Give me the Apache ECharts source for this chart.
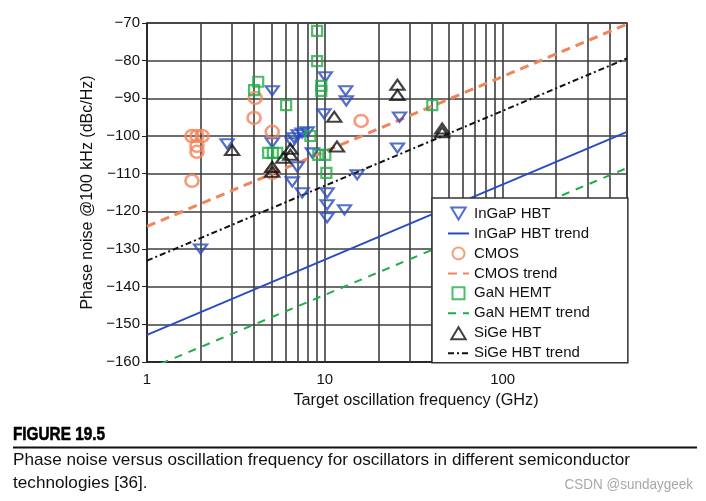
<!DOCTYPE html>
<html><head><meta charset="utf-8">
<script src="https://cdn.jsdelivr.net/npm/echarts@6/dist/echarts.min.js"></script>
<style>html,body{margin:0;padding:0;background:#fff}#c{width:706px;height:501px}</style>
</head><body><div id="c"></div>
<script>
// ---- data (frequency in GHz, phase noise in dBc/Hz) ----
const ingapHBT = [[2.0,-130],[2.82,-102.1],[5.06,-88.0],[5.06,-101.8],[6.56,-101.8],[6.7,-100.5],[7.08,-99.7],[7.46,-99.2],[7.96,-98.9],[8.5,-104.5],[6.99,-108.2],[6.56,-112.2],[7.46,-115.1],[10.3,-115.1],[10.3,-118.3],[10.3,-121.7],[12.9,-119.6],[15.2,-110.3],[10.06,-84.3],[9.9,-94.1],[13.1,-88.0],[13.2,-90.7],[26.3,-95.0],[25.6,-103.2]];
const ingapTrend = [[1,-152.8],[500,-98.9]];
const cmos = [[1.79,-100],[1.91,-100],[2.04,-100],[1.91,-102.6],[1.91,-104.2],[1.79,-111.9],[4.06,-89.9],[4.0,-95.2],[5.06,-98.9],[5.06,-109.8],[16.0,-96.0]];
const cmosTrend = [[1,-124.0],[500,-70.3]];
const ganHEMT = [[9.05,-72.1],[9.05,-80.1],[4.22,-85.6],[4.0,-87.8],[6.06,-91.8],[9.55,-86.7],[9.55,-88.0],[4.8,-104.5],[5.1,-104.5],[5.4,-104.5],[8.29,-100.0],[9.19,-105.0],[10.06,-105.0],[10.2,-109.8],[40.2,-91.8]];
const ganTrend = [[1,-162.0],[500,-108.5]];
const sigeHBT = [[3.01,-103.7],[5.06,-108.2],[5.06,-109.5],[5.84,-105.8],[6.4,-103.4],[6.4,-105.0],[11.3,-94.9],[11.7,-102.8],[25.6,-86.4],[25.6,-89.1],[45.7,-98.0],[45.7,-99.0]];
const sigeTrend = [[1,-133.1],[500,-79.4]];
const minorGridFreqs = [2,3,4,5,6,7,8,9,20,30,40,50,60,70,80,90,200,300,400];
const seriesNames = ['InGaP HBT','InGaP HBT trend','CMOS','CMOS trend','GaN HEMT','GaN HEMT trend','SiGe HBT','SiGe HBT trend'];
const captionTitle = 'FIGURE 19.5';
const captionLines = ['Phase noise versus oscillation frequency for oscillators in different semiconductor', 'technologies [36].'];

const FONT = "'Liberation Sans', Arial, sans-serif";
const BLUE = '#284bc0', ORANGE = '#f2845a', GREEN = '#1fae46', BLACK = '#111';
const GRIDC = '#3e3e3e';

// horizontal squeeze factors so the caption fonts match the condensed print face
const mctx = document.createElement('canvas').getContext('2d');
function fitScale(text, font, target) { mctx.font = font; return target / mctx.measureText(text).width; }
const titleFont = "bold 19px " + FONT;
const capFont = "17px " + FONT;
const titleScale = fitScale(captionTitle, titleFont, 92);
const capScale = fitScale(captionLines[0], capFont, 617);

const hollow = c => ({color: 'rgba(0,0,0,0)', borderColor: c, borderWidth: 2.2});
const noSym = {color: 'rgba(0,0,0,0)', borderColor: 'rgba(0,0,0,0)', borderWidth: 0};

const chart = echarts.init(document.getElementById('c'), null, {renderer: 'canvas'});
chart.setOption({
  animation: false,
  backgroundColor: '#fff',
  grid: {left: 147, right: 79, top: 23, bottom: 139, show: true, borderColor: '#333', borderWidth: 1.5, backgroundColor: 'transparent'},
  xAxis: {
    type: 'log', logBase: 10, min: 1, max: 500,
    name: 'Target oscillation frequency (GHz)', nameLocation: 'middle', nameGap: 31,
    nameTextStyle: {fontSize: 16.3, color: '#111', fontFamily: FONT, padding: [0, 0, 0, 58]},
    axisLine: {show: true, lineStyle: {color: '#222', width: 1.5}},
    axisTick: {show: false},
    axisLabel: {fontSize: 15, color: '#111', fontFamily: FONT, margin: 10, showMaxLabel: false},
    splitLine: {show: true, lineStyle: {color: GRIDC, width: 1.6}}
  },
  yAxis: {
    type: 'value', min: -160, max: -70, interval: 10,
    name: 'Phase noise @100 kHz (dBc/Hz)', nameLocation: 'middle', nameGap: 40,
    nameTextStyle: {fontSize: 16, color: '#111', fontFamily: FONT},
    axisLine: {show: true, lineStyle: {color: '#222', width: 1.5}},
    axisTick: {show: true, length: 5, lineStyle: {color: '#222'}},
    axisLabel: {fontSize: 15, color: '#111', fontFamily: FONT, margin: 7, formatter: v => String(v).replace('-', '\u2212')},
    splitLine: {show: true, lineStyle: {color: GRIDC, width: 1.6}}
  },
  legend: {
    orient: 'vertical', left: 432, top: 198,
    padding: [8, 38, 2, 15], itemWidth: 21, itemHeight: 12, itemGap: 4.96,
    backgroundColor: '#fff', borderColor: '#333', borderWidth: 1.5, borderRadius: 0,
    textStyle: {fontSize: 15, color: '#111', fontFamily: FONT},
    data: seriesNames.map(n => n.endsWith('trend') ? {name: n, itemStyle: noSym} : {name: n})
  },
  series: [
    {name: seriesNames[0], type: 'scatter', data: ingapHBT, z: 4,
      symbol: 'path://M0,0 L12,0 L6,10 Z', symbolSize: [13, 11], symbolKeepAspect: true,
      itemStyle: hollow(BLUE),
      markLine: {silent: true, z: 1, symbol: ['none', 'none'], label: {show: false},
        lineStyle: {color: GRIDC, width: 1.6, type: 'solid'},
        emphasis: {disabled: true},
        data: minorGridFreqs.map(f => ({xAxis: f}))}},
    {name: seriesNames[1], type: 'line', data: ingapTrend, symbol: 'none', z: 3,
      lineStyle: {color: BLUE, width: 1.8, type: 'solid'}, itemStyle: {color: BLUE}},
    {name: seriesNames[2], type: 'scatter', data: cmos, z: 4,
      symbol: 'circle', symbolSize: [13, 12],
      itemStyle: {color: 'rgba(0,0,0,0)', borderColor: ORANGE, borderWidth: 2.6}},
    {name: seriesNames[3], type: 'line', data: cmosTrend, symbol: 'none', z: 3,
      lineStyle: {color: ORANGE, width: 3, type: [9, 6]}, itemStyle: {color: ORANGE}},
    {name: seriesNames[4], type: 'scatter', data: ganHEMT, z: 4,
      symbol: 'path://M0,0 H10 V10 H0 Z', symbolSize: 10, symbolKeepAspect: true,
      itemStyle: hollow(GREEN)},
    {name: seriesNames[5], type: 'line', data: ganTrend, symbol: 'none', z: 3,
      lineStyle: {color: GREEN, width: 2, type: [8, 7]}, itemStyle: {color: GREEN}},
    {name: seriesNames[6], type: 'scatter', data: sigeHBT, z: 4,
      symbol: 'path://M6,0 L12,10 L0,10 Z', symbolSize: [14, 12], symbolKeepAspect: true,
      itemStyle: hollow(BLACK)},
    {name: seriesNames[7], type: 'line', data: sigeTrend, symbol: 'none', z: 3,
      lineStyle: {color: BLACK, width: 2, type: [6, 3, 2, 3]}, itemStyle: {color: BLACK}}
  ],
  graphic: [
    {type: 'text', x: 13, y: 435, scaleX: titleScale, style: {text: captionTitle, font: titleFont, fill: '#000', stroke: '#000', lineWidth: 0.6, verticalAlign: 'middle'}},
    {type: 'line', shape: {x1: 13, y1: 447.5, x2: 697, y2: 447.5}, style: {stroke: '#111', lineWidth: 2.2}},
    {type: 'text', x: 13, y: 460, scaleX: capScale, style: {text: captionLines[0], font: capFont, fill: '#111', verticalAlign: 'middle'}},
    {type: 'text', x: 13, y: 483, scaleX: capScale, style: {text: captionLines[1], font: capFont, fill: '#111', verticalAlign: 'middle'}},
    {type: 'text', x: 693, y: 485, scaleX: 0.9, style: {text: 'CSDN @sundaygeek', font: "15px " + FONT, fill: '#a8a8a8', align: 'right', verticalAlign: 'middle'}}
  ]
});
</script></body></html>
